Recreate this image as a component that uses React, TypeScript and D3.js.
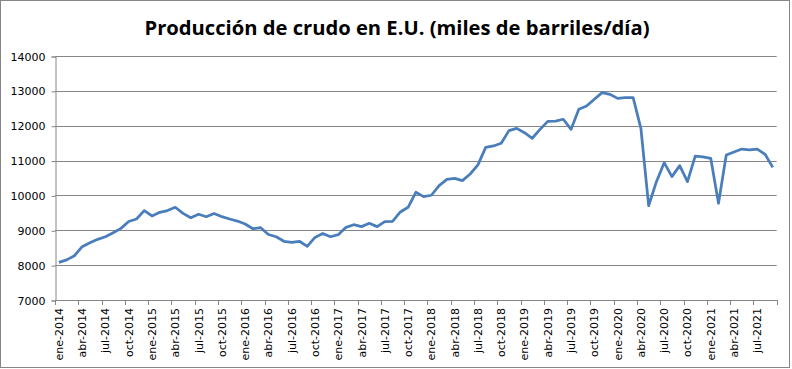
import { useEffect, useRef } from "react"
import * as d3 from "d3"

const monthNames = ["ene", "feb", "mar", "abr", "may", "jun", "jul", "ago", "sep", "oct", "nov", "dic"]
const years = [2014, 2015, 2016, 2017, 2018, 2019, 2020, 2021]

// miles de barriles/día, by year
const prod2014 = [8080, 8150, 8270, 8530, 8640, 8740, 8815, 8930, 9055, 9250, 9325, 9565]
const prod2015 = [9410, 9515, 9565, 9660, 9485, 9360, 9460, 9390, 9480, 9390, 9325, 9265]
const prod2016 = [9180, 9045, 9075, 8880, 8815, 8685, 8655, 8685, 8540, 8795, 8910, 8815]
const prod2017 = [8875, 9085, 9160, 9105, 9200, 9105, 9250, 9255, 9525, 9660, 10090, 9965]
const prod2018 = [10005, 10280, 10460, 10490, 10425, 10615, 10875, 11380, 11420, 11495, 11860, 11925]
const prod2019 = [11800, 11640, 11895, 12125, 12130, 12185, 11895, 12470, 12565, 12760, 12950, 12900]
const prod2020 = [12785, 12805, 12805, 11925, 9705, 10395, 10940, 10540, 10855, 10395, 11130, 11105]
const prod2021 = [11065, 9775, 11160, 11245, 11330, 11305, 11330, 11180, 10805]

const yTicks = [7000, 8000, 9000, 10000, 11000, 12000, 13000, 14000]

const title = "Producción de crudo en E.U. (miles de barriles/día)"

const values = [...prod2014, ...prod2015, ...prod2016, ...prod2017, ...prod2018, ...prod2019, ...prod2020, ...prod2021]
const categories = values.map((_, i) => `${monthNames[i % 12]}-${years[Math.floor(i / 12)]}`)

export default function App() {
  const svgRef = useRef<SVGSVGElement>(null)

  useEffect(() => {
    if (!svgRef.current) return
    const svg = d3.select(svgRef.current)
    svg.selectAll("*").remove()

    const width = 792
    const height = 369
    const left = 55
    const right = 776.7
    const top = 56
    const bottom = 300
    const grid = "#868686"

    svg.attr("width", width).attr("height", height)

    // outer chart border
    svg
      .append("rect")
      .attr("x", 0.5)
      .attr("y", 0.5)
      .attr("width", 789)
      .attr("height", 367)
      .attr("fill", "#fff")
      .attr("stroke", grid)

    const x = d3.scaleBand<string>().domain(categories).range([left, right]).padding(0)
    const y = d3.scaleLinear().domain([7000, 14000]).range([bottom, top])

    // horizontal grid lines
    svg
      .append("g")
      .selectAll("line")
      .data(yTicks)
      .enter()
      .append("line")
      .attr("x1", left)
      .attr("x2", right)
      .attr("y1", (d) => Math.round(y(d)) + 0.5)
      .attr("y2", (d) => Math.round(y(d)) + 0.5)
      .attr("stroke", grid)
      .attr("stroke-width", 1)

    // y axis
    const yAxis = d3.axisLeft(y).tickValues(yTicks).tickSize(4).tickPadding(6).tickFormat(d3.format("d"))
    svg
      .append("g")
      .attr("transform", `translate(${left + 0.5},0.5)`)
      .call(yAxis)
      .call((g) => g.select(".domain").attr("stroke", grid))
      .call((g) => g.selectAll(".tick line").attr("stroke", grid))
      .call((g) =>
        g
          .selectAll(".tick text")
          .attr("fill", "#000")
          .attr("font-family", "DejaVu Sans, Verdana, sans-serif")
          .attr("font-size", 11),
      )

    // x axis: line, ticks between every third category, labels rotated
    const xg = svg.append("g")
    xg.append("line")
      .attr("x1", left)
      .attr("x2", right)
      .attr("y1", bottom + 0.5)
      .attr("y2", bottom + 0.5)
      .attr("stroke", grid)

    const tickPos = categories
      .map((c, i) => ({ c, i }))
      .filter((d) => d.i % 3 === 0)
      .map((d) => x(d.c)!)
      .concat([right])

    xg.selectAll("line.tick")
      .data(tickPos)
      .enter()
      .append("line")
      .attr("class", "tick")
      .attr("x1", (d) => Math.round(d) + 0.5)
      .attr("x2", (d) => Math.round(d) + 0.5)
      .attr("y1", bottom)
      .attr("y2", bottom + 5)
      .attr("stroke", grid)

    xg.selectAll("text")
      .data(categories.filter((_, i) => i % 3 === 0))
      .enter()
      .append("text")
      .attr("transform", (d) => `translate(${x(d)! + x.bandwidth() / 2 + 4},${bottom + 8}) rotate(-90)`)
      .attr("text-anchor", "end")
      .attr("font-family", "DejaVu Sans, Verdana, sans-serif")
      .attr("font-size", 11)
      .attr("fill", "#000")
      .text((d) => d)

    // series line
    const line = d3
      .line<number>()
      .x((_, i) => x(categories[i])! + x.bandwidth() / 2)
      .y((d) => y(d))

    svg
      .append("path")
      .datum(values)
      .attr("fill", "none")
      .attr("stroke", "#4a7ebb")
      .attr("stroke-width", 2.75)
      .attr("stroke-linejoin", "round")
      .attr("d", line)

    // title
    svg
      .append("text")
      .attr("x", 397)
      .attr("y", 35)
      .attr("text-anchor", "middle")
      .attr("font-family", "Open Sans, Noto Sans, sans-serif")
      .attr("font-weight", "bold")
      .attr("font-size", 20)
      .attr("textLength", 505)
      .attr("lengthAdjust", "spacingAndGlyphs")
      .attr("fill", "#000")
      .text(title)
  }, [])

  return (
    <div style={{ position: "absolute", left: 0, top: 0 }}>
      <svg ref={svgRef} style={{ display: "block" }} />
    </div>
  )
}
